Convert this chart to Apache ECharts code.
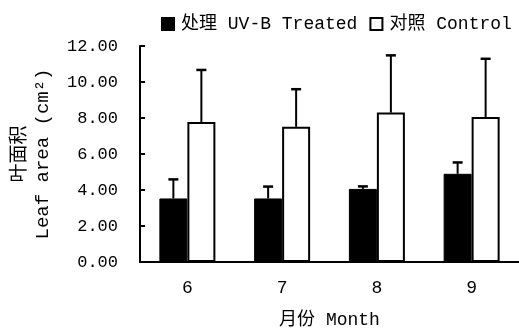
<!DOCTYPE html>
<html><head><meta charset="utf-8">
<script src="https://cdn.jsdelivr.net/npm/echarts@6/dist/echarts.min.js"></script>
<style>html,body{margin:0;padding:0;background:#fff}#c{width:519px;height:334px}</style>
</head><body><div id="c"></div>
<script>
const months = ['6', '7', '8', '9'];
const treatedMean = [3.53, 3.53, 4.06, 4.90];
const treatedSD = [1.06, 0.66, 0.14, 0.63];
const controlMean = [7.78, 7.51, 8.30, 8.06];
const controlSD = [2.89, 2.09, 3.18, 3.23];
const yTicks = [0, 2, 4, 6, 8, 10, 12];

const FONT = '"Liberation Mono", "Noto Sans CJK SC", monospace';
const BW = 28;
const chart = echarts.init(document.getElementById('c'));

function errSeries(mean, sd, offset) {
  return {
    type: 'custom',
    z: 5,
    silent: true,
    data: mean.map((m, i) => [i, m, m + sd[i]]),
    renderItem: function (params, api) {
      const p0 = api.coord([api.value(0), api.value(1)]);
      const p1 = api.coord([api.value(0), api.value(2)]);
      const x = p0[0] + offset;
      const style = { stroke: '#000', lineWidth: 2 };
      return {
        type: 'group',
        children: [
          { type: 'line', shape: { x1: x, y1: p0[1], x2: x, y2: p1[1] }, style },
          { type: 'line', shape: { x1: x - 5, y1: p1[1], x2: x + 5, y2: p1[1] }, style: { stroke: '#000', lineWidth: 2.5 } }
        ]
      };
    }
  };
}

chart.setOption({
  animation: false,
  textStyle: { fontFamily: FONT, color: '#000' },
  legend: {
    left: 156, top: 10,
    icon: 'rect',
    itemWidth: 12, itemHeight: 12, itemGap: 12,
    textStyle: { fontFamily: FONT, fontSize: 18, color: '#000', padding: [0, 0, 0, 2] },
    data: ['处理 UV-B Treated', '对照 Control']
  },
  grid: { left: 135, right: -3, top: 46, bottom: 71, containLabel: false },
  xAxis: {
    type: 'category',
    data: months,
    boundaryGap: true,
    name: '月份 Month',
    nameLocation: 'middle',
    nameGap: 49,
    nameTextStyle: { fontFamily: FONT, fontSize: 18, color: '#000' },
    axisLine: { lineStyle: { color: '#000', width: 2 } },
    axisTick: { inside: true, length: 4, lineStyle: { color: '#000', width: 2 } },
    axisLabel: { fontFamily: FONT, fontSize: 18, color: '#000', margin: 17 }
  },
  yAxis: {
    type: 'value',
    min: 0, max: 12, interval: 2,
    name: '叶面积\nLeaf area (cm²)',
    nameLocation: 'middle',
    nameRotate: 90,
    nameGap: 86,
    nameTextStyle: { fontFamily: FONT, fontSize: 19, color: '#000', lineHeight: 23 },
    axisLine: { show: true, lineStyle: { color: '#000', width: 2 } },
    axisTick: { show: true, inside: true, length: 5, lineStyle: { color: '#000', width: 2 } },
    splitLine: { show: false },
    axisLabel: {
      fontFamily: FONT, fontSize: 17, color: '#000', margin: 22,
      formatter: v => yTicks.includes(v) ? v.toFixed(2) : ''
    }
  },
  series: [
    {
      name: '处理 UV-B Treated', type: 'bar', data: treatedMean,
      barWidth: BW, barGap: '0%',
      itemStyle: { color: '#000', borderColor: '#000', borderWidth: 1 }
    },
    {
      name: '对照 Control', type: 'bar', data: controlMean,
      barWidth: BW, barGap: '0%',
      itemStyle: { color: '#fff', borderColor: '#000', borderWidth: 2 }
    },
    errSeries(treatedMean, treatedSD, -BW / 2),
    errSeries(controlMean, controlSD, BW / 2)
  ]
});
</script></body></html>
